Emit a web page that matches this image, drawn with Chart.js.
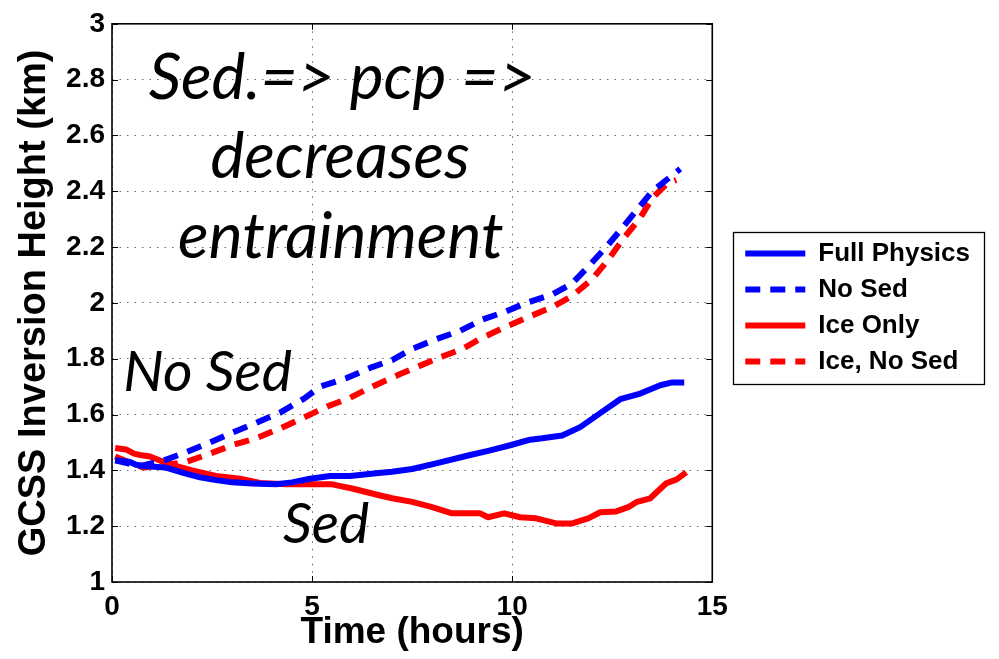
<!DOCTYPE html>
<html>
<head>
<meta charset="utf-8">
<script src="https://cdn.jsdelivr.net/npm/chart.js@4.4.1/dist/chart.umd.min.js"></script>
<style>
html,body{margin:0;padding:0;background:#fff;}
#wrap{width:999px;height:659px;position:relative;}
</style>
</head>
<body>
<div id="wrap"><canvas id="c" width="999" height="659"></canvas></div>
<script>
// ---- data ----
const seriesNames = ["Full Physics", "No Sed", "Ice Only", "Ice, No Sed"];

const fullTime = [0.08, 0.45, 0.6, 0.85, 1.35, 1.8, 2.2, 2.6, 3.0, 3.5, 4.1, 4.5, 4.95, 5.45, 5.95, 6.6, 7.0, 7.5, 8.1, 8.95, 9.4, 9.95, 10.45, 10.75, 11.25, 11.7, 12.2, 12.7, 13.2, 13.7, 14.0, 14.3];
const fullPhysics = [1.436, 1.43, 1.42, 1.415, 1.41, 1.39, 1.375, 1.365, 1.357, 1.353, 1.35, 1.357, 1.37, 1.38, 1.38, 1.39, 1.395, 1.405, 1.425, 1.455, 1.47, 1.49, 1.51, 1.515, 1.525, 1.555, 1.605, 1.655, 1.675, 1.705, 1.715, 1.715];

const noSedTime = [0.08, 0.7, 1.3, 1.85, 2.45, 3.0, 3.6, 4.2, 4.8, 5.2, 5.85, 6.5, 7.0, 7.5, 8.1, 8.7, 9.25, 9.85, 10.35, 11.0, 11.5, 11.9, 12.35, 12.7, 13.1, 13.5, 14.2];
const noSed = [1.436, 1.415, 1.436, 1.465, 1.50, 1.535, 1.57, 1.607, 1.657, 1.70, 1.73, 1.77, 1.795, 1.835, 1.87, 1.90, 1.94, 1.97, 2.0, 2.03, 2.07, 2.13, 2.20, 2.26, 2.33, 2.40, 2.48];

const iceTime = [0.08, 0.35, 0.55, 0.7, 0.95, 1.2, 1.5, 2.0, 2.6, 3.2, 3.7, 4.35, 5.5, 6.0, 6.7, 7.0, 7.5, 8.0, 8.5, 9.2, 9.4, 9.8, 10.2, 10.6, 11.1, 11.5, 11.9, 12.2, 12.6, 12.9, 13.1, 13.45, 13.85, 14.1, 14.35];
const iceOnly = [1.48, 1.475, 1.46, 1.455, 1.45, 1.435, 1.42, 1.40, 1.38, 1.37, 1.355, 1.35, 1.35, 1.335, 1.31, 1.30, 1.287, 1.268, 1.246, 1.246, 1.232, 1.246, 1.232, 1.228, 1.21, 1.21, 1.228, 1.25, 1.253, 1.268, 1.286, 1.30, 1.354, 1.367, 1.393];

const iceNoSedTime = [0.08, 0.5, 0.8, 1.0, 1.35, 1.85, 2.45, 3.0, 3.6, 4.2, 4.8, 5.4, 5.95, 6.5, 7.2, 8.2, 8.75, 9.25, 9.85, 10.5, 11.0, 11.5, 12.0, 12.4, 12.75, 13.2, 13.5, 13.85, 14.1];
const iceNoSed = [1.45, 1.425, 1.41, 1.415, 1.42, 1.43, 1.46, 1.49, 1.515, 1.55, 1.59, 1.63, 1.66, 1.70, 1.745, 1.805, 1.835, 1.875, 1.915, 1.955, 1.985, 2.025, 2.085, 2.155, 2.225, 2.305, 2.375, 2.425, 2.44];

const xTicks = [0, 5, 10, 15];
const yTickLabels = ["1", "1.2", "1.4", "1.6", "1.8", "2", "2.2", "2.4", "2.6", "2.8", "3"];

const noteTexts = ["Sed.=> pcp =>", "decreases", "entrainment", "No Sed", "Sed"];
const noteX = [5.75, 5.7, 5.72, 2.39, 5.35];
const noteY = [2.732, 2.446, 2.161, 1.686, 1.139];
const noteSize = [64, 64, 64, 57, 57];
// ---------------------------------------

function pts(xs, ys) { return xs.map((x, i) => ({x: x, y: ys[i]})); }

const BLUE = '#0000ff', RED = '#ff0000';
const DASH = [15, 10];

const decorPlugin = {
  id: 'decor',
  afterDatasetsDraw(chart) {
    const {ctx, chartArea: a, scales} = chart;
    const xs = scales.x, ys = scales.y;
    ctx.save();
    ctx.strokeStyle = '#000';
    ctx.lineWidth = 1;
    ctx.beginPath();
    xTicks.forEach(v => {
      const px = Math.round(xs.getPixelForValue(v)) + 0.5;
      ctx.moveTo(px, a.bottom); ctx.lineTo(px, a.bottom - 6);
      ctx.moveTo(px, a.top); ctx.lineTo(px, a.top + 6);
    });
    yTickLabels.forEach(s => {
      const py = Math.round(ys.getPixelForValue(parseFloat(s))) + 0.5;
      ctx.moveTo(a.left, py); ctx.lineTo(a.left + 6, py);
      ctx.moveTo(a.right, py); ctx.lineTo(a.right - 6, py);
    });
    ctx.stroke();
    ctx.lineWidth = 1.6;
    ctx.strokeRect(a.left, a.top, a.right - a.left, a.bottom - a.top);
    // annotations
    ctx.fillStyle = '#000';
    ctx.textAlign = 'center';
    ctx.textBaseline = 'alphabetic';
    noteTexts.forEach((t, i) => {
      ctx.font = 'italic ' + noteSize[i] + 'px Lato';
      ctx.fillText(t, xs.getPixelForValue(noteX[i]), ys.getPixelForValue(noteY[i]));
    });
    ctx.restore();
  },
  afterDraw(chart) {
    const lg = chart.legend;
    if (!lg || !lg.legendHitBoxes || !lg.legendHitBoxes.length) return;
    const hb = lg.legendHitBoxes;
    let l = Infinity, r = -Infinity, t = Infinity, b = -Infinity;
    hb.forEach(h => { l = Math.min(l, h.left); r = Math.max(r, h.left + h.width); t = Math.min(t, h.top); b = Math.max(b, h.top + h.height); });
    const ctx = chart.ctx;
    ctx.save();
    ctx.strokeStyle = '#000';
    ctx.lineWidth = 1.3;
    ctx.strokeRect(Math.round(l - 12) + 0.5, Math.round(t - 9) + 0.5, Math.round(r - l + 26), Math.round(b - t + 18));
    ctx.restore();
  }
};

const chart = new Chart(document.getElementById('c'), {
  type: 'line',
  data: {
    datasets: [
      {label: seriesNames[0], data: pts(fullTime, fullPhysics), borderColor: BLUE, backgroundColor: BLUE, borderWidth: 6},
      {label: seriesNames[1], data: pts(noSedTime, noSed), borderColor: BLUE, backgroundColor: BLUE, borderWidth: 6, borderDash: DASH},
      {label: seriesNames[2], data: pts(iceTime, iceOnly), borderColor: RED, backgroundColor: RED, borderWidth: 6},
      {label: seriesNames[3], data: pts(iceNoSedTime, iceNoSed), borderColor: RED, backgroundColor: RED, borderWidth: 6, borderDash: DASH}
    ]
  },
  options: {
    responsive: false,
    animation: false,
    devicePixelRatio: 1,
    elements: {point: {radius: 0, hoverRadius: 0}, line: {tension: 0, borderCapStyle: 'butt', borderJoinStyle: 'round'}},
    layout: {padding: {top: 22, right: 19, bottom: 0, left: 0}},
    plugins: {
      tooltip: {enabled: false},
      legend: {
        position: 'right',
        align: 'center',
        fullSize: false,
        maxWidth: 320,
        title: {display: true, text: '', font: {size: 1}, padding: {top: 4, bottom: 4}},
        labels: {
          usePointStyle: true,
          pointStyle: 'line',
          pointStyleWidth: 60,
          boxHeight: 26,
          padding: 10,
          color: '#000',
          font: {family: 'Liberation Sans', weight: 'bold', size: 26},
          generateLabels: (chart) => {
            const items = Chart.defaults.plugins.legend.labels.generateLabels(chart);
            items.forEach(it => {
              const ds = chart.data.datasets[it.datasetIndex];
              it.lineDash = ds.borderDash || [];
              it.lineWidth = ds.borderWidth;
              it.strokeStyle = ds.borderColor;
              it.fillStyle = ds.borderColor;
              it.lineCap = 'butt';
              it.pointStyle = 'line';
            });
            return items;
          }
        }
      }
    },
    scales: {
      x: {
        type: 'linear',
        min: 0, max: 15,
        afterFit: s => { s.height = 77; },
        afterBuildTicks: s => { s.ticks = xTicks.map(v => ({value: v})); },
        ticks: {color: '#000', padding: 8, font: {family: 'Liberation Sans', weight: 'bold', size: 28}, maxRotation: 0},
        grid: {color: '#666', lineWidth: 1, drawTicks: false},
        border: {display: false, dash: [1.5, 6]},
        title: {display: true, text: 'Time (hours)', color: '#000', font: {family: 'Liberation Sans', weight: 'bold', size: 37}, padding: {top: 0, bottom: 4}}
      },
      y: {
        type: 'linear',
        min: 1, max: 3,
        afterFit: s => { s.width = 112; },
        afterBuildTicks: s => { s.ticks = yTickLabels.map(v => ({value: parseFloat(v)})); },
        ticks: {color: '#000', padding: 7, font: {family: 'Liberation Sans', weight: 'bold', size: 28},
          callback: (v) => { const i = yTickLabels.findIndex(s => Math.abs(parseFloat(s) - v) < 1e-6); return i >= 0 ? yTickLabels[i] : ''; }},
        grid: {color: '#666', lineWidth: 1, drawTicks: false},
        border: {display: false, dash: [1.5, 6]},
        title: {display: true, text: 'GCSS Inversion Height (km)', color: '#000', font: {family: 'Liberation Sans', weight: 'bold', size: 38}, padding: {top: 12, bottom: 0}}
      },
      spacer: {
        type: 'linear',
        position: 'right',
        display: true,
        afterFit: s => { s.width = 23; },
        ticks: {display: false},
        grid: {display: false, drawTicks: false},
        border: {display: false}
      }
    }
  },
  plugins: [decorPlugin]
});
</script>
</body>
</html>
